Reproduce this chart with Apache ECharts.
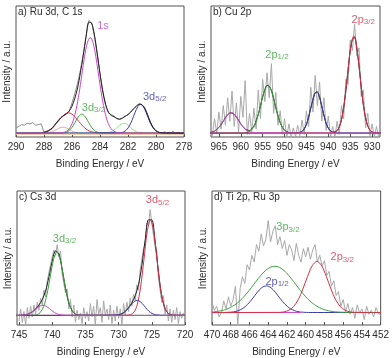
<!DOCTYPE html>
<html>
<head>
<meta charset="utf-8">
<script src="https://cdn.jsdelivr.net/npm/echarts@6/dist/echarts.min.js"></script>
<style>
  html, body { margin: 0; padding: 0; background: #fff; }
  #chart { width: 392px; height: 358px; }
</style>
</head>
<body>
<div id="chart"></div>
<script>
// ---- tick labels ----
const aTicks = [290, 288, 286, 284, 282, 280, 278];
const bTicks = [965, 960, 955, 950, 945, 940, 935, 930];
const cTicks = [745, 740, 735, 730, 725, 720];
const dTicks = [470, 468, 466, 464, 462, 460, 458, 456, 454, 452];

// ---- a) Ru 3d, C 1s : [binding energy, intensity] ----
const aRaw = [[290,7],[289.8,8],[289.6,9.5],[289.4,9],[289.2,10.5],[289,10],[288.8,11],[288.6,9],[288.4,9.5],[288.2,10],[288.0,3.5],[287.8,3.8],[287.6,5],[287.4,6.5],[287.2,9.5],[287,12],[286.8,14.5],[286.6,16],[286.4,17.5],[286.2,19.5],[286,26],[285.8,33],[285.6,41],[285.4,51],[285.2,63],[285,77],[284.8,89],[284.6,87],[284.4,77],[284.2,63],[284,48],[283.8,34],[283.6,24],[283.4,18.5],[283.2,17],[283,16],[282.8,14],[282.6,13.5],[282.4,14.5],[282.2,16],[282,17],[281.8,19],[281.6,21.5],[281.4,23.5],[281.2,25.5],[281,24.5],[280.8,21.5],[280.6,16.5],[280.4,11],[280.2,7],[280,4.5],[279.8,3.5],[279.6,2.5],[279.4,4],[279.2,3],[279,2],[278.8,4.5],[278.6,2.5],[278.4,3.5],[278.2,2],[278,3]];
const aEnv = [[288,3.6],[287.8,4.2],[287.6,5.3],[287.4,7],[287.2,9.8],[287,12.4],[286.8,14.8],[286.6,16.4],[286.4,17.8],[286.2,19.8],[286,23.5],[285.8,29.5],[285.6,37.5],[285.4,49],[285.2,62],[285,76],[284.8,87.5],[284.6,87],[284.4,78],[284.2,64],[284,48.5],[283.8,35],[283.6,25],[283.4,19],[283.2,16.5],[283,15.5],[282.8,14.2],[282.6,13.6],[282.4,14.4],[282.2,15.8],[282,17.2],[281.8,19.2],[281.6,21.5],[281.4,23.6],[281.2,25],[281,24.6],[280.8,22],[280.6,17],[280.4,11.4],[280.2,7.2],[280,4.8],[279.8,3.6],[279.5,3.1],[278,3]];
const aBase = [[290,2],[278,2]];
const aPink = [[290,2.5],[288.15,2.55],[287.9,2.7],[287.65,3.2],[287.4,4.1],[287.15,5.5],[286.9,6.9],[286.65,7.5],[286.4,6.9],[286.15,5.5],[285.9,4.1],[285.65,3.2],[285.4,2.7],[285.15,2.55],[278,2.5]];
const aRed = [[290,3],[288.5,3.1],[288.25,3.3],[288,3.7],[287.75,4.6],[287.5,6.1],[287.25,8.6],[287,11.7],[286.75,15],[286.5,17.5],[286.25,18.5],[286,17.5],[285.75,15],[285.5,11.7],[285.25,8.6],[285,6.1],[284.75,4.6],[284.5,3.7],[284.25,3.3],[284,3.1],[278,3]];
const aGreen = [[290,3],[286.7,3.1],[286.5,3.4],[286.3,4.2],[286.1,6],[285.9,9],[285.7,12.8],[285.5,16.1],[285.3,17.5],[285.1,16.1],[284.9,12.8],[284.7,9],[284.5,6],[284.3,4.2],[284.1,3.4],[283.9,3.1],[278,3]];
const aMagenta = [[290,3],[286.9,3.1],[286.7,3.3],[286.5,3.8],[286.3,5.1],[286.1,7.8],[285.9,12.9],[285.7,21.2],[285.5,33],[285.3,47.3],[285.1,61.5],[284.9,72.1],[284.7,76],[284.5,72.1],[284.3,61.5],[284.1,47.3],[283.9,33],[283.7,21.2],[283.5,12.9],[283.3,7.8],[283.1,5.1],[282.9,3.8],[282.7,3.3],[282.5,3.1],[278,3]];
const aLime = [[290,3],[283.7,3.05],[283.5,3.2],[283.3,3.6],[283.1,4.5],[282.9,6.1],[282.7,8.05],[282.5,9.8],[282.3,10.5],[282.1,9.8],[281.9,8.05],[281.7,6.1],[281.5,4.5],[281.3,3.6],[281.1,3.2],[280.9,3.05],[278,3]];
const aBlue = [[290,3],[282.5,3.3],[282.3,4],[282.1,5.5],[281.9,8.5],[281.7,13.1],[281.5,18.6],[281.3,23.2],[281.1,25],[280.9,23.2],[280.7,18.6],[280.5,13.1],[280.3,8.5],[280.1,5.5],[279.9,4],[279.7,3.3],[278,3]];
const aNotes = [[284.2,84.7,'1s',''],[285.3,22,'3d','3/2'],[280.93,30.5,'3d','5/2']];

// ---- b) Cu 2p ----
const bRaw = [[967,8],[966.5,1],[966,14],[965.5,3],[965,19],[964.5,6],[964,24],[963.5,9],[963,30],[962.5,12],[962,35],[961.5,8],[961,26],[960.5,4],[960,31],[959.5,15],[959,43],[958.5,2],[958,18],[957.5,4],[957,22],[956.5,6],[956,36],[955.5,14],[955,44],[954.5,27],[954,49],[953.5,30],[953,56],[952.5,18],[952,34],[951.5,9],[951,20],[950.5,2],[950,14],[949.5,0],[949,10],[948.5,0],[948,7],[947.5,0],[947,9],[946.5,1],[946,13],[945.5,2],[945,20],[944.5,8],[944,38],[943.5,19],[943,47],[942.5,24],[942,42],[941.5,12],[941,30],[940.5,5],[940,16],[939.5,0],[939,8],[938.5,0],[938,12],[937.5,2],[937,24],[936.5,14],[936,44],[935.5,40],[935,74],[934.5,66],[934,86],[933.5,62],[933,68],[932.5,31],[932,36],[931.5,7],[931,18],[930.5,1],[930,10],[929.5,0],[929,8],[928.5,0],[928,6]];
const bEnv = [[967,3.4],[966.5,3.8],[966,4.5],[965.5,5.8],[965,7.3],[964.5,9.5],[964,12.1],[963.5,14.7],[963,17],[962.5,18.3],[962,18.4],[961.5,17.3],[961,15.3],[960.5,12.7],[960,10],[959.5,7.9],[959,6.1],[958.5,5.3],[958,5],[957.5,6.2],[957,8.2],[956.5,12.3],[956,17.3],[955.5,23.8],[955,30.7],[954.5,36],[954,39.4],[953.5,38.7],[953,35.4],[952.5,29.5],[952,22.5],[951.5,16.3],[951,10.9],[950.5,7.5],[950,5.2],[949.5,4.1],[949,3.4],[948.5,3.1],[948,3.05],[947.5,3.05],[947,3.1],[946.5,3.5],[946,4.3],[945.5,6.3],[945,9.6],[944.5,15.3],[944,22.2],[943.5,28.6],[943,33.8],[942.5,34.3],[942,30.3],[941.5,23.4],[941,16.4],[940.5,10.3],[940,6.7],[939.5,4.8],[939,3.75],[938.5,4],[938,4.9],[937.5,7.8],[937,13],[936.5,22.8],[936,35.4],[935.5,51.2],[935,65.8],[934.5,74.5],[934,76.3],[933.5,68],[933,54.3],[932.5,39],[932,24.5],[931.5,14.8],[931,8.4],[930.5,5.2],[930,3.8],[929.5,3.3],[929,3.1],[928.5,3],[928,3]];
const bMagenta = [[967,3.2],[966.7,3.6],[966.2,4.1],[965.7,5.1],[965.2,6.6],[964.7,8.6],[964.2,11.1],[963.7,13.7],[963.2,16.2],[962.7,17.9],[962.2,18.5],[961.7,17.9],[961.2,16.2],[960.7,13.7],[960.2,11.1],[959.7,8.6],[959.2,6.6],[958.7,5.1],[958.2,4.1],[957.7,3.6],[957.2,3.3],[956.7,3.1],[928,3]];
const bGreen = [[967,3],[959.3,3.05],[958.8,3.3],[958.3,3.7],[957.8,4.6],[957.3,6.4],[956.8,9.3],[956.3,13.8],[955.8,19.8],[955.3,26.6],[954.8,33.2],[954.3,37.9],[953.8,39.7],[953.3,37.9],[952.8,33.2],[952.3,26.6],[951.8,19.8],[951.3,13.8],[950.8,9.3],[950.3,6.4],[949.8,4.6],[949.3,3.7],[948.8,3.3],[948.3,3.05],[928,3]];
const bBlue = [[967,3],[947.2,3.05],[946.7,3.3],[946.2,3.8],[945.7,5.2],[945.2,8],[944.7,12.7],[944.2,19.2],[943.7,26.5],[943.2,32.4],[942.7,34.6],[942.2,32.4],[941.7,26.5],[941.2,19.2],[940.7,12.7],[940.2,8],[939.7,5.2],[939.2,3.8],[938.7,3.3],[938.2,3.05],[928,3]];
const bRed = [[967,3],[939.2,3.1],[938.7,3.4],[938.2,4.3],[937.7,6.2],[937.2,10.5],[936.7,18],[936.2,29.6],[935.7,44.7],[935.2,60.4],[934.7,72.4],[934.2,77],[933.7,72.4],[933.2,60.4],[932.7,44.7],[932.2,29.6],[931.7,18],[931.2,10.5],[930.7,6.2],[930.2,4.3],[929.7,3.4],[929.2,3.1],[928,3]];
const bNotes = [[954.4,62.6,'2p','1/2'],[934.7,89.3,'2p','3/2']];

// ---- c) Cs 3d ----
const cRaw = [[745,3],[744.75,12],[744.5,2],[744.25,10],[744,0],[743.75,13],[743.5,5],[743.25,14],[743,6],[742.75,15],[742.5,8],[742.25,17],[742,11],[741.75,20],[741.5,15],[741.25,26],[741,21],[740.75,33],[740.5,32],[740.25,45],[740,44],[739.75,56],[739.5,52],[739.25,60],[739,51],[738.75,55],[738.5,38],[738.25,39],[738,24],[737.75,27],[737.5,12],[737.25,19],[737,6],[736.75,15],[736.5,2],[736.25,11],[736,4],[735.75,9],[735.5,1],[735.25,13],[735,5],[734.75,10],[734.5,3],[734.25,16],[734,6],[733.75,14],[733.5,0],[733.25,19],[733,8],[732.75,13],[732.5,2],[732.25,18],[732,7],[731.75,12],[731.5,4],[731.25,15],[731,1],[730.75,11],[730.5,3],[730.25,14],[730,5],[729.75,12],[729.5,0],[729.25,16],[729,7],[728.75,17],[728.5,10],[728.25,20],[728,14],[727.75,23],[727.5,18],[727.25,30],[727,26],[726.75,41],[726.5,40],[726.25,57],[726,60],[725.75,76],[725.5,74],[725.25,86],[725,76],[724.75,77],[724.5,58],[724.25,55],[724,35],[723.75,34],[723.5,17],[723.25,22],[723,8],[722.75,15],[722.5,3],[722.25,12],[722,2],[721.75,11],[721.5,4],[721.25,13],[721,1],[720.75,10],[720.5,5],[720.25,9],[720,6]];
const cEnv = [[745,7.25],[744.5,7.4],[744,7.7],[743.5,8.4],[743,9.85],[742.5,12],[742,14.9],[741.5,18.9],[741,25.4],[740.5,35.6],[740,47.5],[739.5,55.3],[739,53.1],[738.5,41.8],[738,27.6],[737.5,16.6],[737,10.6],[736.5,8.1],[736,7.4],[735.5,7.2],[731,7.2],[730.5,7.3],[730,7.6],[729.5,8.5],[729,10.1],[728.5,13],[728,16.7],[727.5,21.8],[727,30.1],[726.5,44.4],[726,63.5],[725.5,78.5],[725,78.5],[724.5,62.2],[724,39.5],[723.5,21.6],[723,12.1],[722.5,8.5],[722,7.45],[721.5,7.2],[720,7.2]];
const cMagenta = [[745.5,7.2],[744.9,7.25],[744.4,7.4],[743.9,7.8],[743.4,8.6],[742.9,10.2],[742.4,12.2],[741.9,14],[741.4,14.7],[740.9,14],[740.4,12.2],[739.9,10.2],[739.4,8.6],[738.9,7.8],[738.4,7.4],[737.9,7.25],[720,7.2]];
const cGreen = [[745.5,7.2],[742.8,7.3],[742.3,7.7],[741.8,9.3],[741.3,13.6],[740.8,22.6],[740.3,35.9],[739.8,48.9],[739.3,54.5],[738.8,48.9],[738.3,35.9],[737.8,22.6],[737.3,13.6],[736.8,9.3],[736.3,7.7],[735.8,7.3],[720,7.2]];
const cBlue = [[745.5,7.2],[730.7,7.3],[730.2,7.5],[729.7,8.05],[729.2,9.3],[728.7,11.6],[728.2,14.6],[727.7,17.3],[727.2,18.4],[726.7,17.3],[726.2,14.6],[725.7,11.6],[725.2,9.3],[724.7,8.05],[724.2,7.5],[723.7,7.3],[720,7.2]];
const cRed = [[745.5,7.2],[728.7,7.3],[728.2,7.7],[727.7,9.4],[727.2,15],[726.7,27.7],[726.2,48.2],[725.7,69.4],[725.2,78.6],[724.7,69.4],[724.2,48.2],[723.7,27.7],[723.2,15],[722.7,9.4],[722.2,7.7],[721.7,7.3],[720,7.2]];
const cNotes = [[739.9,64.2,'3d','3/2'],[725.9,92.8,'3d','5/2']];

// ---- d) Ti 2p, Ru 3p ----
const dRaw = [[470,17],[469.75,11],[469.5,14],[469.25,6],[469,9],[468.75,18],[468.5,12],[468.25,21],[468,14],[467.75,19],[467.5,29],[467.25,0],[467,27],[466.75,36],[466.5,31],[466.25,45],[466,41],[465.75,52],[465.5,47],[465.25,60],[465,55],[464.75,68],[464.5,59],[464.25,64],[464,78],[463.75,62],[463.5,70],[463.25,74],[463,60],[462.75,66],[462.5,57],[462.25,63],[462,52],[461.75,60],[461.5,56],[461.25,48],[461,61],[460.75,52],[460.5,47],[460.25,57],[460,51],[459.75,58],[459.5,49],[459.25,56],[459,60],[458.75,47],[458.5,52],[458.25,44],[458,48],[457.75,37],[457.5,40],[457.25,29],[457,33],[456.75,22],[456.5,25],[456.25,14],[456,19],[455.75,10],[455.5,16],[455.25,8],[455,13],[454.75,5],[454.5,15],[454.25,9],[454,12],[453.75,4],[453.5,14],[453.25,8],[453,11],[452.75,6],[452.5,13],[452.25,9],[452,7]];
const dBase = [[470,9.3],[460.5,9.3]];
const dBlue = [[470,9.3],[468.7,9.35],[468.2,9.5],[467.7,9.8],[467.2,10.7],[466.7,12.4],[466.2,15.4],[465.7,19.5],[465.2,24.1],[464.7,27.8],[464.2,29.2],[463.7,27.8],[463.2,24.1],[462.7,19.5],[462.2,15.4],[461.7,12.4],[461.2,10.7],[460.7,9.8],[460.2,9.5],[459.7,9.35],[452,9.3]];
const dGreen = [[470,9.7],[469.8,9.8],[469.3,10.3],[468.8,11],[468.3,12.2],[467.8,14],[467.3,16.4],[466.8,19.6],[466.3,23.5],[465.8,27.9],[465.3,32.5],[464.8,36.9],[464.3,40.6],[463.8,43],[463.3,43.8],[462.8,43],[462.3,40.6],[461.8,36.9],[461.3,32.5],[460.8,27.9],[460.3,23.5],[459.8,19.6],[459.3,16.4],[458.8,14],[458.3,12.2],[457.8,11],[457.3,10.3],[456.8,9.8],[456.3,9.6],[455.5,9.4],[452,9.3]];
const dRed = [[470,9.3],[462.8,9.45],[462.3,9.8],[461.8,11],[461.3,13.7],[460.8,18.8],[460.3,26.8],[459.8,36.3],[459.3,44.3],[458.8,47.5],[458.3,44.3],[457.8,36.3],[457.3,26.8],[456.8,18.8],[456.3,13.7],[455.8,11],[455.3,9.8],[454.8,9.45],[452,9.3]];
const dNotes = [[463.14,72.5,'3p','3/2'],[457.34,50.5,'2p','3/2'],[464.3,32,'2p','1/2']];

const FONT = '"Liberation Sans", Arial, sans-serif';
const TEXT = '#2b2b2b';
const C = {
  raw: '#8a8a8a', noisy: '#a8a8a8', env: '#1e1e1e',
  magenta: '#c848c8', green: '#3aa23a', lime: '#8ee07a', blue: '#3a3aa6',
  red: '#d62f48', pink: '#f0a2aa', peach: '#f5cda8',
};

const PANELS = [
  {
    title: 'a) Ru 3d, C 1s', box: { left: 16, top: 6, width: 168, height: 131 },
    min: 278, max: 290, ticks: aTicks,
    lines: [
      { data: aRaw, color: C.raw },
      { data: aBase, color: C.peach },
      { data: aPink, color: C.pink, smooth: true },
      { data: aLime, color: C.lime, smooth: true },
      { data: aRed, color: C.red, smooth: true },
      { data: aGreen, color: C.green, smooth: true },
      { data: aBlue, color: C.blue, smooth: true },
      { data: aMagenta, color: C.magenta, smooth: true },
      { data: aEnv, color: C.env, smooth: true },
    ],
    notes: aNotes, noteColors: [C.magenta, C.green, C.blue],
  },
  {
    title: 'b) Cu 2p', box: { left: 211, top: 6, width: 169, height: 131 },
    min: 928.2, max: 966.8, ticks: bTicks,
    lines: [
      { data: bRaw, color: C.noisy },
      { data: bEnv, color: C.env, smooth: true },
      { data: bGreen, color: C.green, smooth: true },
      { data: bBlue, color: C.blue, smooth: true },
      { data: bRed, color: C.red, smooth: true },
      { data: bMagenta, color: C.magenta, smooth: true },
    ],
    notes: bNotes, noteColors: [C.green, C.red],
  },
  {
    title: 'c) Cs 3d', box: { left: 17, top: 191, width: 168, height: 134 },
    min: 720, max: 745.3, ticks: cTicks,
    lines: [
      { data: cRaw, color: C.noisy },
      { data: cEnv, color: C.env, smooth: true },
      { data: cGreen, color: C.green, smooth: true },
      { data: cRed, color: C.red, smooth: true },
      { data: cBlue, color: C.blue, smooth: true },
      { data: cMagenta, color: C.magenta, smooth: true },
    ],
    notes: cNotes, noteColors: [C.green, C.red],
  },
  {
    title: 'd) Ti 2p, Ru 3p', box: { left: 212, top: 191, width: 169, height: 134 },
    min: 452, max: 470, ticks: dTicks,
    lines: [
      { data: dRaw, color: C.noisy },
      { data: dBlue, color: C.blue, smooth: true },
      { data: dGreen, color: C.green, smooth: true },
      { data: dBase, color: C.magenta },
      { data: dRed, color: C.red, smooth: true },
    ],
    notes: dNotes, noteColors: [C.green, C.red, C.blue],
  },
];

const chart = echarts.init(document.getElementById('chart'));

const grids = [];
const xAxes = [];
const yAxes = [];
const titles = [];
const series = [];

PANELS.forEach((p, i) => {
  grids.push({
    left: p.box.left, top: p.box.top, width: p.box.width, height: p.box.height,
    show: true, borderColor: '#505050', borderWidth: 1, backgroundColor: 'transparent',
  });
  xAxes.push({
    gridIndex: i, type: 'value', inverse: true, min: p.min, max: p.max,
    name: 'Binding Energy / eV', nameLocation: 'middle', nameGap: 22,
    nameTextStyle: { fontFamily: FONT, fontSize: 10, color: TEXT },
    axisLine: { show: false },
    axisTick: { show: true, inside: true, length: 3, customValues: p.ticks, lineStyle: { color: '#505050' } },
    axisLabel: {
      customValues: p.ticks, showMinLabel: true, showMaxLabel: true, margin: 5,
      fontFamily: FONT, fontSize: 10, color: TEXT,
    },
    splitLine: { show: false },
  });
  yAxes.push({
    gridIndex: i, type: 'value', min: 0, max: 100,
    name: 'Intensity / a.u.', nameLocation: 'middle', nameGap: 4,
    nameTextStyle: { fontFamily: FONT, fontSize: 10, color: TEXT },
    axisLine: { show: false }, axisTick: { show: false }, axisLabel: { show: false },
    splitLine: { show: false },
  });
  titles.push({
    text: p.title, left: p.box.left + 2, top: p.box.top + 1, padding: 0,
    textStyle: { fontFamily: FONT, fontSize: 10, fontWeight: 'normal', color: TEXT },
  });
  p.lines.forEach((l) => {
    series.push({
      type: 'line', xAxisIndex: i, yAxisIndex: i, data: l.data,
      showSymbol: false, smooth: l.smooth ? 0.3 : false, silent: true,
      lineStyle: { width: 1, color: l.color },
    });
  });
  series.push({
    type: 'scatter', xAxisIndex: i, yAxisIndex: i, silent: true,
    symbolSize: 1, itemStyle: { color: 'rgba(0,0,0,0)' },
    data: p.notes.map((n, k) => ({
      value: n,
      label: {
        show: true, position: 'inside', align: 'left', verticalAlign: 'middle',
        formatter: n[3] ? `{m|${n[2]}}{s|${n[3]}}` : `{m|${n[2]}}`,
        rich: {
          m: { fontFamily: FONT, fontSize: 11, color: p.noteColors[k], lineHeight: 12, verticalAlign: 'top' },
          s: { fontFamily: FONT, fontSize: 8, color: p.noteColors[k], lineHeight: 9, verticalAlign: 'bottom', padding: [5, 0, 0, 0] },
        },
      },
    })),
  });
});

chart.setOption({
  animation: false,
  title: titles,
  grid: grids,
  xAxis: xAxes,
  yAxis: yAxes,
  series,
});

window.addEventListener('resize', () => chart.resize());
</script>
</body>
</html>
